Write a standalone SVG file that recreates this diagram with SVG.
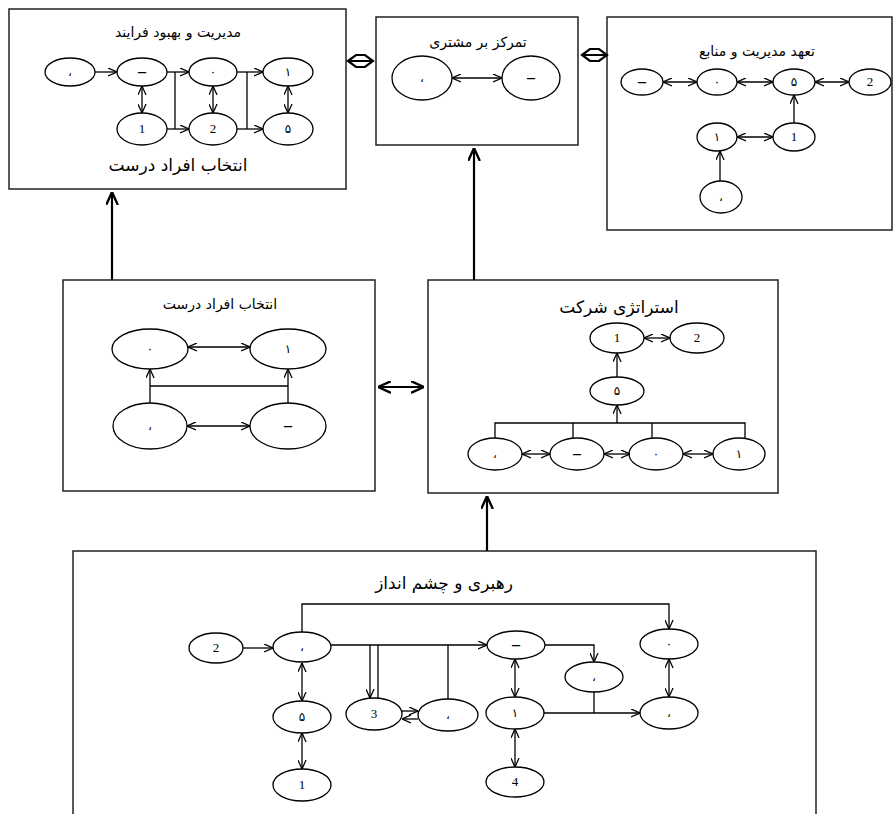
<svg xmlns="http://www.w3.org/2000/svg" width="894" height="814" viewBox="0 0 894 814">
<style>
.box{fill:#fff;stroke:#222;stroke-width:1.5}
.n{fill:#fff;stroke:#000;stroke-width:1.3}
.c{fill:none;stroke:#000;stroke-width:1.3}
.k{fill:none;stroke:#000;stroke-width:2.2}
.t{font-family:"DejaVu Sans",sans-serif;font-size:12px;text-anchor:middle;fill:#000}
.m{font-family:"Liberation Serif",serif;font-size:16px;font-weight:bold;text-anchor:middle;fill:#000}
.d{font-family:"Liberation Serif",serif;font-size:13px;text-anchor:middle;fill:#000}
.h{font-family:"DejaVu Sans",sans-serif;font-size:14px;text-anchor:middle;fill:#000}
.hb{font-family:"DejaVu Sans",sans-serif;font-size:17px;text-anchor:middle;fill:#000}
</style>
<defs>
<marker id="a" viewBox="0 0 10 10" refX="10" refY="5" markerWidth="9" markerHeight="9" markerUnits="userSpaceOnUse" orient="auto-start-reverse"><path d="M0,0.5 L10,5 L0,9.5" fill="none" stroke="#000" stroke-width="1.4"/></marker>
<marker id="b" viewBox="0 0 10 10" refX="10" refY="5" markerWidth="13" markerHeight="13" markerUnits="userSpaceOnUse" orient="auto-start-reverse"><path d="M0,0.5 L10,5 L0,9.5" fill="none" stroke="#000" stroke-width="1.8"/></marker>
</defs>
<rect width="894" height="814" fill="#fff"/>

<!-- boxes -->
<g id="box-process">
<rect class="box" x="9" y="9" width="337" height="180"/>
<text class="h" x="178" y="37">مدیریت و بهبود فرایند</text>
<text class="hb" x="178" y="171">انتخاب افراد درست</text>
</g>
<g id="box-customer">
<rect class="box" x="376" y="17" width="202" height="128"/>
<text class="h" x="478" y="47">تمرکز بر مشتری</text>
</g>
<g id="box-commit">
<rect class="box" x="607" y="17" width="285" height="213"/>
<text class="h" x="757" y="56">تعهد مدیریت و منابع</text>
</g>
<g id="box-people">
<rect class="box" x="63" y="280" width="312" height="211"/>
<text class="h" x="220" y="309">انتخاب افراد درست</text>
</g>
<g id="box-strategy">
<rect class="box" x="428" y="280" width="350" height="213"/>
<text class="hb" x="619" y="313">استراتژی شرکت</text>
</g>
<g id="box-leader">
<rect class="box" x="73" y="551" width="743" height="280"/>
<text class="hb" x="444" y="589">رهبری و چشم انداز</text>
</g>

<!-- nodes: top-left -->
<g id="p1"><ellipse class="n" cx="70" cy="72" rx="25" ry="14"/><text class="t" x="70" y="76">،</text></g>
<g id="p2"><ellipse class="n" cx="142" cy="72" rx="25" ry="14"/><text class="m" x="142" y="77">–</text></g>
<g id="p3"><ellipse class="n" cx="213" cy="72" rx="24" ry="14"/><text class="t" x="213" y="76">٠</text></g>
<g id="p4"><ellipse class="n" cx="288" cy="72" rx="25" ry="14"/><text class="t" x="288" y="76">١</text></g>
<g id="p5"><ellipse class="n" cx="142" cy="129" rx="25" ry="16"/><text class="d" x="142" y="133">1</text></g>
<g id="p6"><ellipse class="n" cx="213" cy="129" rx="24" ry="16"/><text class="d" x="213" y="133">2</text></g>
<g id="p7"><ellipse class="n" cx="288" cy="129" rx="25" ry="16"/><text class="t" x="288" y="133">۵</text></g>

<!-- top-middle -->
<g id="c1"><ellipse class="n" cx="422" cy="78" rx="30" ry="22"/><text class="t" x="422" y="82">،</text></g>
<g id="c2"><ellipse class="n" cx="531" cy="78" rx="29" ry="22"/><text class="m" x="531" y="83">–</text></g>

<!-- top-right -->
<g id="m1"><ellipse class="n" cx="642" cy="82" rx="21" ry="13"/><text class="m" x="642" y="87">–</text></g>
<g id="m2"><ellipse class="n" cx="717" cy="82" rx="20" ry="13"/><text class="t" x="717" y="86">٠</text></g>
<g id="m3"><ellipse class="n" cx="794" cy="82" rx="21" ry="13"/><text class="t" x="794" y="86">۵</text></g>
<g id="m4"><ellipse class="n" cx="870" cy="82" rx="21" ry="13"/><text class="d" x="870" y="86">2</text></g>
<g id="m5"><ellipse class="n" cx="717" cy="137" rx="20" ry="14"/><text class="t" x="717" y="141">١</text></g>
<g id="m6"><ellipse class="n" cx="794" cy="137" rx="21" ry="14"/><text class="d" x="794" y="141">1</text></g>
<g id="m7"><ellipse class="n" cx="721" cy="197" rx="21" ry="16"/><text class="t" x="721" y="201">،</text></g>

<!-- middle-left -->
<g id="s1"><ellipse class="n" cx="150" cy="349" rx="38" ry="20"/><text class="t" x="150" y="353">٠</text></g>
<g id="s2"><ellipse class="n" cx="288" cy="349" rx="38" ry="20"/><text class="t" x="288" y="353">١</text></g>
<g id="s3"><ellipse class="n" cx="150" cy="426" rx="37" ry="23"/><text class="t" x="150" y="430">،</text></g>
<g id="s4"><ellipse class="n" cx="288" cy="426" rx="38" ry="23"/><text class="m" x="288" y="431">–</text></g>

<!-- middle-right -->
<g id="r1"><ellipse class="n" cx="617" cy="338" rx="27" ry="15"/><text class="d" x="617" y="342">1</text></g>
<g id="r2"><ellipse class="n" cx="697" cy="338" rx="27" ry="15"/><text class="d" x="697" y="342">2</text></g>
<g id="r3"><ellipse class="n" cx="617" cy="391" rx="27" ry="14"/><text class="t" x="617" y="395">۵</text></g>
<g id="r4"><ellipse class="n" cx="495" cy="454" rx="27" ry="16"/><text class="t" x="495" y="458">،</text></g>
<g id="r5"><ellipse class="n" cx="577" cy="454" rx="27" ry="16"/><text class="m" x="577" y="459">–</text></g>
<g id="r6"><ellipse class="n" cx="656" cy="454" rx="27" ry="16"/><text class="t" x="656" y="458">٠</text></g>
<g id="r7"><ellipse class="n" cx="739" cy="454" rx="26" ry="16"/><text class="t" x="739" y="458">١</text></g>

<!-- bottom -->
<g id="l1"><ellipse class="n" cx="216" cy="648" rx="27" ry="15"/><text class="d" x="216" y="652">2</text></g>
<g id="l2"><ellipse class="n" cx="302" cy="647" rx="29" ry="15"/><text class="t" x="302" y="651">،</text></g>
<g id="l3"><ellipse class="n" cx="302" cy="717" rx="29" ry="16"/><text class="t" x="302" y="721">۵</text></g>
<g id="l4"><ellipse class="n" cx="302" cy="785" rx="29" ry="16"/><text class="d" x="302" y="789">1</text></g>
<g id="l5"><ellipse class="n" cx="374" cy="714" rx="28" ry="16"/><text class="d" x="374" y="718">3</text></g>
<g id="l6"><ellipse class="n" cx="448" cy="715" rx="30" ry="16"/><text class="t" x="448" y="719">،</text></g>
<g id="l7"><ellipse class="n" cx="516" cy="645" rx="29" ry="14"/><text class="m" x="516" y="650">–</text></g>
<g id="l8"><ellipse class="n" cx="515" cy="713" rx="29" ry="16"/><text class="t" x="515" y="717">١</text></g>
<g id="l9"><ellipse class="n" cx="515" cy="782" rx="29" ry="15"/><text class="d" x="515" y="786">4</text></g>
<g id="l10"><ellipse class="n" cx="594" cy="677" rx="29" ry="15"/><text class="t" x="594" y="681">،</text></g>
<g id="l11"><ellipse class="n" cx="669" cy="644" rx="29" ry="15"/><text class="t" x="669" y="648">٠</text></g>
<g id="l12"><ellipse class="n" cx="669" cy="713" rx="29" ry="16"/><text class="t" x="669" y="717">،</text></g>

<g id="connectors">
<!-- between boxes -->
<path class="k" d="M348,61 L356,55 L365,55 L373,61 L365,67 L356,67 Z M348,61 H373"/>
<path class="k" d="M582,55 L590,49 L599,49 L607,55 L599,61 L590,61 Z M582,55 H607"/>
<line class="k" x1="378" y1="387" x2="424" y2="387" marker-start="url(#b)" marker-end="url(#b)"/>
<line class="k" x1="112" y1="280" x2="112" y2="192" marker-end="url(#b)"/>
<line class="k" x1="474" y1="280" x2="474" y2="148" marker-end="url(#b)"/>
<line class="k" x1="487" y1="551" x2="487" y2="496" marker-end="url(#b)"/>

<!-- top-left -->
<line class="c" x1="95" y1="72" x2="117" y2="72" marker-end="url(#a)"/>
<line class="c" x1="167" y1="72" x2="189" y2="72" marker-end="url(#a)"/>
<line class="c" x1="237" y1="72" x2="263" y2="72" marker-end="url(#a)"/>
<line class="c" x1="167" y1="129" x2="189" y2="129" marker-end="url(#a)"/>
<line class="c" x1="237" y1="129" x2="263" y2="129" marker-end="url(#a)"/>
<line class="c" x1="175" y1="72" x2="175" y2="129"/>
<line class="c" x1="247" y1="72" x2="247" y2="129"/>
<line class="c" x1="142" y1="86" x2="142" y2="113" stroke-width="1.6" marker-start="url(#a)" marker-end="url(#a)"/>
<line class="c" x1="213" y1="86" x2="213" y2="113" stroke-width="1.6" marker-start="url(#a)" marker-end="url(#a)"/>
<line class="c" x1="288" y1="86" x2="288" y2="113" stroke-width="1.6" marker-start="url(#a)" marker-end="url(#a)"/>

<!-- top-middle -->
<line class="c" x1="452" y1="78" x2="502" y2="78" marker-start="url(#a)" marker-end="url(#a)"/>

<!-- top-right -->
<line class="c" x1="663" y1="82" x2="697" y2="82" marker-start="url(#a)" marker-end="url(#a)"/>
<line class="c" x1="737" y1="82" x2="773" y2="82" marker-start="url(#a)" marker-end="url(#a)"/>
<line class="c" x1="815" y1="82" x2="849" y2="82" marker-start="url(#a)" marker-end="url(#a)"/>
<line class="c" x1="737" y1="137" x2="773" y2="137" marker-start="url(#a)" marker-end="url(#a)"/>
<line class="c" x1="794" y1="123" x2="794" y2="95" marker-end="url(#a)"/>
<line class="c" x1="720" y1="181" x2="720" y2="151" marker-end="url(#a)"/>

<!-- middle-left -->
<line class="c" x1="188" y1="347" x2="250" y2="347" marker-start="url(#a)" marker-end="url(#a)"/>
<line class="c" x1="187" y1="426" x2="250" y2="426" marker-start="url(#a)" marker-end="url(#a)"/>
<line class="c" x1="150" y1="403" x2="150" y2="369" marker-end="url(#a)"/>
<line class="c" x1="288" y1="403" x2="288" y2="369" marker-end="url(#a)"/>
<line class="c" x1="150" y1="386" x2="288" y2="386"/>

<!-- middle-right -->
<line class="c" x1="644" y1="338" x2="670" y2="338" marker-start="url(#a)" marker-end="url(#a)"/>
<line class="c" x1="617" y1="377" x2="617" y2="353" stroke-width="1.6" marker-end="url(#a)"/>
<line class="c" x1="617" y1="423" x2="617" y2="405" stroke-width="1.6" marker-end="url(#a)"/>
<path class="c" d="M495,438 V423 H745 V438 M573,423 V438 M652,423 V438"/>
<line class="c" x1="522" y1="454" x2="550" y2="454" marker-start="url(#a)" marker-end="url(#a)"/>
<line class="c" x1="604" y1="454" x2="630" y2="454" marker-start="url(#a)" marker-end="url(#a)"/>
<line class="c" x1="683" y1="454" x2="713" y2="454" marker-start="url(#a)" marker-end="url(#a)"/>

<!-- bottom -->
<line class="c" x1="243" y1="648" x2="273" y2="648" marker-end="url(#a)"/>
<line class="c" x1="302" y1="663" x2="302" y2="701" stroke-width="1.6" marker-start="url(#a)" marker-end="url(#a)"/>
<line class="c" x1="302" y1="733" x2="302" y2="769" stroke-width="1.6" marker-start="url(#a)" marker-end="url(#a)"/>
<path class="c" d="M302,632 V604 H669 V629" marker-end="url(#a)"/>
<line class="c" x1="331" y1="645" x2="487" y2="645" marker-end="url(#a)"/>
<line class="c" x1="370" y1="645" x2="370" y2="698" marker-end="url(#a)"/>
<line class="c" x1="378" y1="645" x2="378" y2="698"/>
<line class="c" x1="448" y1="645" x2="448" y2="699"/>
<line class="c" x1="402" y1="711" x2="418" y2="711" marker-end="url(#a)"/>
<line class="c" x1="418" y1="719" x2="402" y2="719" marker-end="url(#a)"/>
<path class="c" d="M545,645 H594 V662" marker-end="url(#a)"/>
<line class="c" x1="515" y1="659" x2="515" y2="697" stroke-width="1.6" marker-start="url(#a)" marker-end="url(#a)"/>
<line class="c" x1="515" y1="729" x2="515" y2="767" stroke-width="1.6" marker-start="url(#a)" marker-end="url(#a)"/>
<line class="c" x1="544" y1="713" x2="640" y2="713" marker-end="url(#a)"/>
<line class="c" x1="594" y1="692" x2="594" y2="713"/>
<line class="c" x1="669" y1="659" x2="669" y2="697" stroke-width="1.6" marker-start="url(#a)" marker-end="url(#a)"/>
</g>
</svg>
